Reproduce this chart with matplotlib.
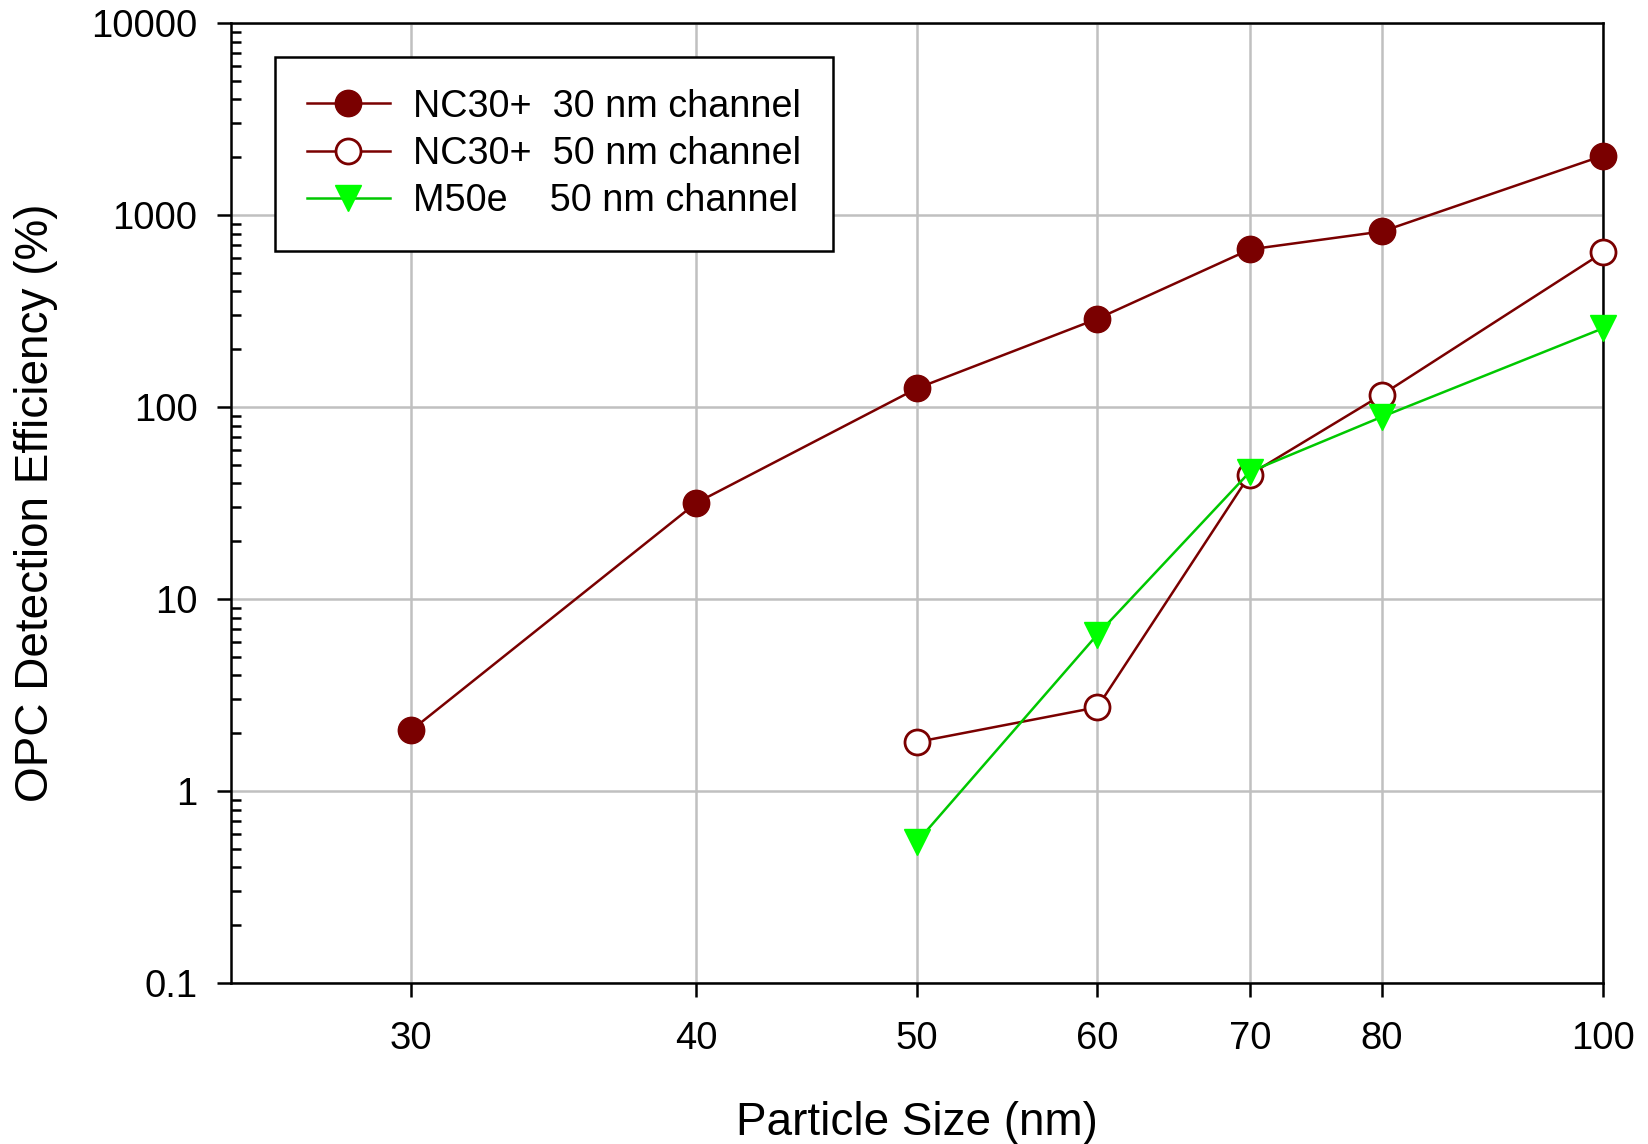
import matplotlib
matplotlib.use("Agg")
import matplotlib.pyplot as plt
from matplotlib.ticker import FixedLocator, NullLocator, LogLocator, FixedFormatter
from matplotlib.lines import Line2D

plt.rcParams['font.family'] = ['Liberation Sans', 'DejaVu Sans']

# Data
x_nc30_30 = [30, 40, 50, 60, 70, 80, 100]
y_nc30_30 = [2.07, 31.6, 125, 288, 662, 821, 2037]

x_nc30_50 = [50, 60, 70, 80, 100]
y_nc30_50 = [1.80, 2.73, 44.5, 116, 638]

x_m50e = [50, 60, 70, 80, 100]
y_m50e = [0.543, 6.53, 46, 89, 257]

x_ticks = [30, 40, 50, 60, 70, 80, 100]
y_ticks = [0.1, 1, 10, 100, 1000, 10000]
y_ticklabels = ["0.1", "1", "10", "100", "1000", "10000"]

labels = ["NC30+  30 nm channel", "NC30+  50 nm channel", "M50e    50 nm channel"]

DARK = "#7a0000"
GREEN_LINE = "#00c800"
GREEN = "#00ff00"

fig = plt.figure(figsize=(16.48, 11.44), dpi=100)
ax = fig.add_axes([0.140, 0.1407, 0.9727 - 0.140, 0.9799 - 0.1407])

ax.set_xscale('log')
ax.set_yscale('log')
ax.set_xlim(25, 100)
ax.set_ylim(0.1, 10000)

ax.plot(x_nc30_30, y_nc30_30, color=DARK, lw=1.8, marker='o', ms=19,
        mfc=DARK, mec=DARK, zorder=3, clip_on=False)
ax.plot(x_nc30_50, y_nc30_50, color=DARK, lw=1.8, marker='o', ms=18,
        mfc='white', mec=DARK, mew=2, zorder=3, clip_on=False)
ax.plot(x_m50e, y_m50e, color=GREEN_LINE, lw=1.8, marker='v', ms=19,
        mfc=GREEN, mec=GREEN, zorder=4, clip_on=False)

ax.xaxis.set_major_locator(FixedLocator(x_ticks))
ax.xaxis.set_major_formatter(FixedFormatter([str(v) for v in x_ticks]))
ax.xaxis.set_minor_locator(NullLocator())
ax.yaxis.set_major_locator(FixedLocator(y_ticks))
ax.yaxis.set_major_formatter(FixedFormatter(y_ticklabels))
ax.yaxis.set_minor_locator(LogLocator(base=10, subs=range(2, 10), numticks=20))

ax.grid(True, which='major', color='#c0c0c0', lw=1.8, zorder=0)
ax.set_axisbelow(True)

for s in ax.spines.values():
    s.set_linewidth(1.8)
    s.set_color('black')

ax.tick_params(axis='both', which='major', direction='out', length=10, width=1.8,
               labelsize=27.5, top=False, right=False)
ax.tick_params(axis='y', which='major', pad=14)
ax.tick_params(axis='x', which='major', pad=17)
ax.tick_params(axis='y', which='minor', direction='in', length=7, width=1.8,
               left=True, right=False)

ax.set_xlabel("Particle Size (nm)", fontsize=33, labelpad=32)
ax.set_ylabel("OPC Detection Efficiency (%)", fontsize=33, labelpad=24)

handles = [
    Line2D([], [], color=DARK, lw=1.8, marker='o', ms=19, mfc=DARK, mec=DARK),
    Line2D([], [], color=DARK, lw=1.8, marker='o', ms=18, mfc='white', mec=DARK, mew=2),
    Line2D([], [], color=GREEN_LINE, lw=1.8, marker='v', ms=19, mfc=GREEN, mec=GREEN),
]
leg = ax.legend(handles, labels, loc='upper left', bbox_to_anchor=(0.032, 0.965),
                fontsize=27.2, frameon=True, fancybox=False, edgecolor='black',
                framealpha=1, handlelength=2.2, handletextpad=0.6,
                borderpad=0.85, labelspacing=0.3, borderaxespad=0)
leg.get_frame().set_linewidth(1.8)

fig.savefig("out.png", dpi=100)
